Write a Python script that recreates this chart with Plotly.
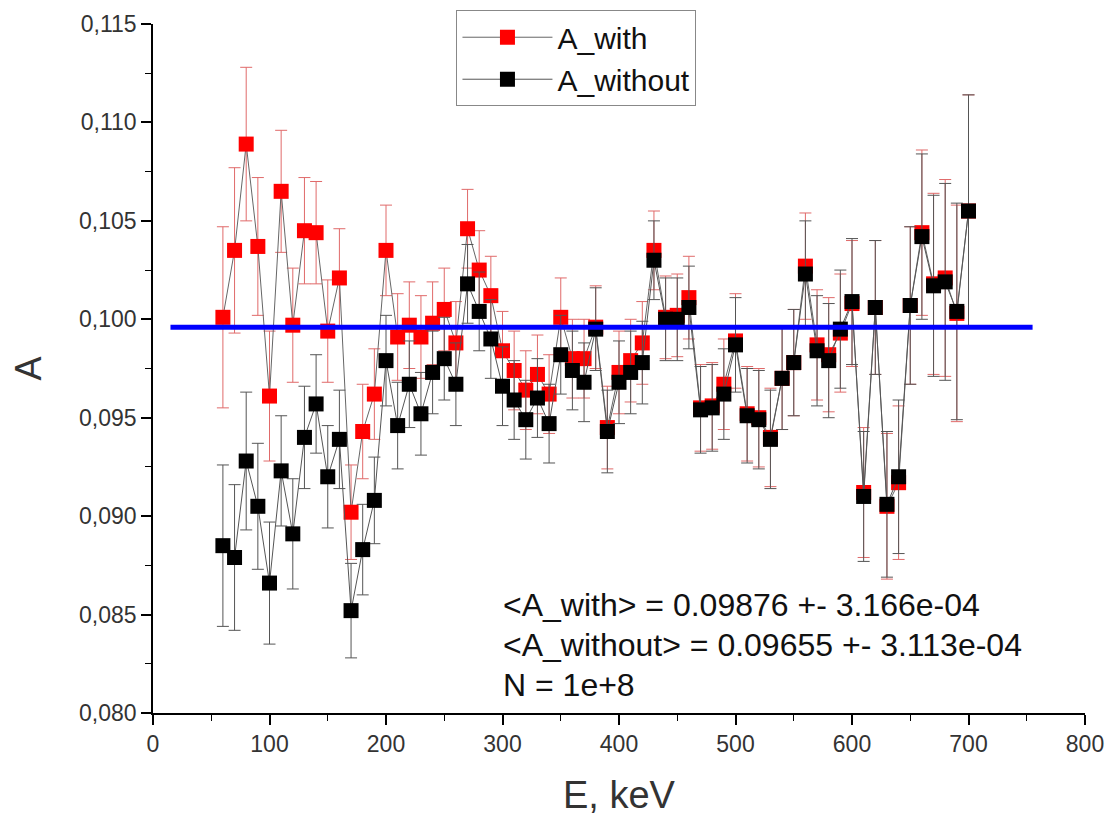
import plotly.graph_objects as go

energy = [60, 70, 80, 90, 100, 110, 120, 130, 140, 150, 160, 170, 180, 190, 200,
          210, 220, 230, 240, 250, 260, 270, 280, 290, 300, 310, 320, 330, 340, 350,
          360, 370, 380, 390, 400, 410, 420, 430, 440, 450, 460, 470, 480, 490, 500,
          510, 520, 530, 540, 550, 560, 570, 580, 590, 600, 610, 620, 630, 640, 650,
          660, 670, 680, 690, 700]

a_with = [0.1001, 0.1035, 0.1089, 0.1037, 0.0961, 0.1065, 0.0997, 0.1045, 0.1044, 0.0994,
          0.1021, 0.0902, 0.0943, 0.0962, 0.1035, 0.0991, 0.0997, 0.0991, 0.0998, 0.1005,
          0.0988, 0.1046, 0.1025, 0.1012, 0.0984, 0.0974, 0.0964, 0.0972, 0.0962, 0.1001,
          0.0980, 0.0980, 0.0996, 0.0945, 0.0973, 0.0979, 0.0988, 0.1035, 0.1001, 0.1002,
          0.1011, 0.0955, 0.0956, 0.0967, 0.0989, 0.0952, 0.0950, 0.0940, 0.0970, 0.0978,
          0.1027, 0.0987, 0.0982, 0.0993, 0.1008, 0.0912, 0.1006, 0.0905, 0.0917, 0.1007,
          0.1044, 0.1018, 0.1021, 0.1003, 0.1055]

err_with = [0.0046, 0.0042, 0.0039, 0.0035, 0.0033, 0.0031, 0.0029, 0.0027, 0.0026, 0.0026,
            0.0025, 0.0024, 0.0024, 0.0023, 0.0023, 0.0022, 0.0022, 0.0021, 0.0021, 0.0021,
            0.0021, 0.0020, 0.0020, 0.0020, 0.0020, 0.0020, 0.0020, 0.0020, 0.0020, 0.0020,
            0.0020, 0.0020, 0.0021, 0.0021, 0.0021, 0.0021, 0.0021, 0.0020, 0.0021, 0.0021,
            0.0021, 0.0022, 0.0022, 0.0023, 0.0024, 0.0024, 0.0025, 0.0025, 0.0026, 0.0027,
            0.0027, 0.0028, 0.0029, 0.0030, 0.0032, 0.0033, 0.0034, 0.0037, 0.0039, 0.0040,
            0.0042, 0.0046, 0.0050, 0.0055, 0.0059]

a_without = [0.0885, 0.0879, 0.0928, 0.0905, 0.0866, 0.0923, 0.0891, 0.0940, 0.0957, 0.0920,
             0.0939, 0.0852, 0.0883, 0.0908, 0.0979, 0.0946, 0.0967, 0.0952, 0.0973, 0.0980,
             0.0967, 0.1018, 0.1004, 0.0990, 0.0966, 0.0959, 0.0949, 0.0960, 0.0947, 0.0982,
             0.0974, 0.0968, 0.0995, 0.0943, 0.0968, 0.0973, 0.0978, 0.1030, 0.1000, 0.1000,
             0.1006, 0.0954, 0.0955, 0.0962, 0.0987, 0.0951, 0.0949, 0.0939, 0.0970, 0.0978,
             0.1023, 0.0984, 0.0979, 0.0995, 0.1009, 0.0910, 0.1006, 0.0906, 0.0920, 0.1007,
             0.1042, 0.1017, 0.1019, 0.1004, 0.1055]

err_without = [0.0041, 0.0037, 0.0035, 0.0032, 0.0031, 0.0028, 0.0028, 0.0026, 0.0025, 0.0026,
               0.0025, 0.0024, 0.0023, 0.0022, 0.0023, 0.0022, 0.0022, 0.0021, 0.0021, 0.0021,
               0.0021, 0.0020, 0.0020, 0.0020, 0.0020, 0.0020, 0.0020, 0.0020, 0.0020, 0.0020,
               0.0020, 0.0020, 0.0021, 0.0021, 0.0021, 0.0021, 0.0021, 0.0020, 0.0021, 0.0021,
               0.0021, 0.0022, 0.0022, 0.0023, 0.0024, 0.0024, 0.0025, 0.0025, 0.0026, 0.0027,
               0.0027, 0.0028, 0.0029, 0.0030, 0.0032, 0.0033, 0.0034, 0.0037, 0.0039, 0.0040,
               0.0042, 0.0046, 0.0050, 0.0055, 0.0059]

ref_line_x = [15, 755]
ref_line_y = [0.0996, 0.0996]

annotation_lines = [
    "&lt;A_with&gt; = 0.09876 +- 3.166e-04",
    "&lt;A_without&gt; = 0.09655 +- 3.113e-04",
    "N = 1e+8",
]
annotation_y = [0.0855, 0.08347, 0.08143]
annotation_x = 299

FONT = "Arial, Liberation Sans, sans-serif"

fig = go.Figure()

fig.add_trace(go.Scatter(
    x=energy, y=a_with, name="A_with", mode="lines+markers",
    line=dict(color="#666666", width=1),
    marker=dict(symbol="square", size=15, color="#ff0000"),
    error_y=dict(type="data", array=err_with, visible=True,
                 color="#e06a6a", thickness=1, width=6),
))

fig.add_trace(go.Scatter(
    x=energy, y=a_without, name="A_without", mode="lines+markers",
    line=dict(color="#555555", width=1),
    marker=dict(symbol="square", size=15, color="#000000"),
    error_y=dict(type="data", array=err_without, visible=True,
                 color="#555555", thickness=1, width=6),
))

fig.add_trace(go.Scatter(
    x=ref_line_x, y=ref_line_y, mode="lines", showlegend=False,
    line=dict(color="#0000ff", width=5), hoverinfo="skip",
))

for txt, yy in zip(annotation_lines, annotation_y):
    fig.add_annotation(x=annotation_x, y=yy, xref="x", yref="y", text=txt,
                       showarrow=False, xanchor="left", yanchor="middle",
                       font=dict(family=FONT, size=32, color="#111111"))

fig.update_layout(
    width=1111, height=808,
    margin=dict(l=145, r=34, t=16, b=103, autoexpand=False),
    paper_bgcolor="white", plot_bgcolor="white",
    separators=",.",
    font=dict(family=FONT, color="#333333"),
    showlegend=True,
    legend=dict(x=0.3256, y=1.02, xanchor="left", yanchor="top",
                bgcolor="white", bordercolor="#888888", borderwidth=1,
                font=dict(family=FONT, size=30, color="#111111"),
                itemsizing="trace", itemwidth=90, tracegroupgap=0),
)

fig.update_xaxes(
    range=[0, 800], tickmode="linear", tick0=0, dtick=100,
    showgrid=False, zeroline=False, showline=True, linecolor="black", linewidth=1.5,
    ticks="outside", ticklen=10, tickwidth=1.5, tickcolor="black",
    minor=dict(dtick=50, ticks="outside", ticklen=6, tickwidth=1.2, tickcolor="black", showgrid=False),
    tickfont=dict(family=FONT, size=23, color="#333333"),
    title=dict(text="E, keV", font=dict(family=FONT, size=38, color="#333333"), standoff=25),
)

fig.update_yaxes(
    range=[0.080, 0.115], tickmode="linear", tick0=0.080, dtick=0.005, tickformat=".3f",
    showgrid=False, zeroline=False, showline=True, linecolor="black", linewidth=1.5,
    ticks="outside", ticklen=10, tickwidth=1.5, tickcolor="black",
    minor=dict(dtick=0.0025, ticks="outside", ticklen=6, tickwidth=1.2, tickcolor="black", showgrid=False),
    tickfont=dict(family=FONT, size=23, color="#333333"),
    title=dict(text="A", font=dict(family=FONT, size=36, color="#333333"), standoff=28),
)

fig.write_html("out.html")
